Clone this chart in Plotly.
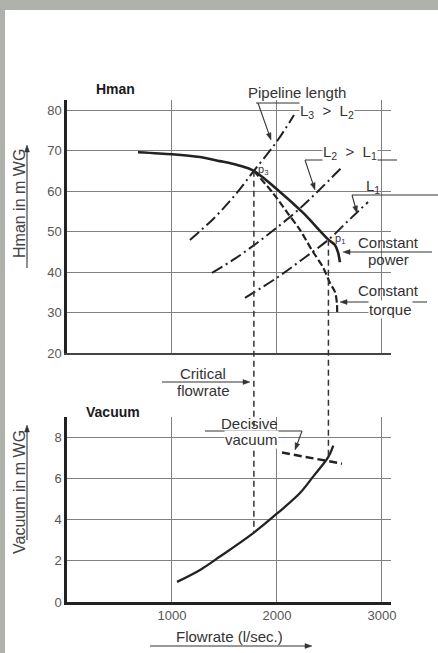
import math
import plotly.graph_objects as go

# ---------------- data ----------------
PUMP_Q = [676, 1000, 1267, 1457, 1629, 1780, 2029, 2250, 2490, 2552, 2581, 2600]
PUMP_H = [69.6, 69.1, 68.4, 67.4, 66.4, 65.0, 59.8, 54.6, 48.0, 46.7, 44.9, 42.4]

TORQUE_Q = [1780, 1962, 2095, 2219, 2333, 2438, 2505, 2552, 2571, 2573]
TORQUE_H = [65.0, 59.5, 54.8, 50.4, 45.4, 41.2, 37.3, 35.1, 32.3, 29.4]

L1_Q = [1695, 2000, 2250, 2490, 2700, 2867]
L1_H = [33.6, 38.6, 43.3, 48.0, 53.2, 57.3]
L2_Q = [1381, 1600, 1800, 2000, 2200, 2400, 2619]
L2_H = [39.8, 43.3, 47.0, 51.0, 55.3, 60.2, 65.9]
L3_Q = [1171, 1400, 1600, 1780, 2000, 2162]
L3_H = [47.9, 53.3, 59.0, 65.0, 72.3, 78.8]

VAC_Q = [1048, 1267, 1457, 1774, 2007, 2219, 2346, 2489, 2536]
VAC_V = [0.98, 1.56, 2.21, 3.35, 4.33, 5.30, 6.11, 7.06, 7.61]

DECISIVE_Q = [2048, 2619]
DECISIVE_V = [7.27, 6.73]

CRIT_Q, CRIT_H, CRIT_V = 1780, 65.0, 3.35   # p3 / critical flowrate
P1_Q, P1_H, P1_V = 2490, 48.0, 7.06         # p1

X_TICKS = [1000, 2000, 3000]
X_LABELS = ["1000", "2000", "3000"]
H_TICKS = [20, 30, 40, 50, 60, 70, 80]
V_TICKS = [0, 2, 4, 6, 8]

# ---------------- geometry ----------------
W, H = 438, 653
ML, MR, MT, MB = 67, 47, 100, 51
PW, PH = W - ML - MR, H - MT - MB


def px_x(px):
    return (px - ML) / PW


def px_y(py):
    return (H - MB - py) / PH


X_RANGE = [0, 3086]
H_RANGE = [20, 82.5]
V_RANGE = [0, 9.0]
TOP_DOM = [px_y(353), 1.0]
BOT_DOM = [0.0, px_y(417)]


def q_paper(q):
    return (q - X_RANGE[0]) / (X_RANGE[1] - X_RANGE[0])


def h_paper(h):
    return TOP_DOM[0] + (h - H_RANGE[0]) / (H_RANGE[1] - H_RANGE[0]) * (TOP_DOM[1] - TOP_DOM[0])


def v_paper(v):
    return BOT_DOM[0] + (v - V_RANGE[0]) / (V_RANGE[1] - V_RANGE[0]) * (BOT_DOM[1] - BOT_DOM[0])


FONT = "Liberation Sans, Arial, Helvetica, sans-serif"
INK = "#222222"
TXT = "#333333"
GRID = "#808080"
DASHDOT = "12px,4px,2px,4px"

fig = go.Figure()

# top plot traces
for q, h in [(L1_Q, L1_H), (L2_Q, L2_H), (L3_Q, L3_H)]:
    fig.add_trace(go.Scatter(x=q, y=h, mode="lines", xaxis="x", yaxis="y",
                             line=dict(color=INK, width=2, dash=DASHDOT, shape="spline")))
fig.add_trace(go.Scatter(x=TORQUE_Q, y=TORQUE_H, mode="lines", xaxis="x", yaxis="y",
                         line=dict(color=INK, width=2.2, dash="7px,3px", shape="spline", smoothing=0.8)))
fig.add_trace(go.Scatter(x=PUMP_Q, y=PUMP_H, mode="lines", xaxis="x", yaxis="y",
                         line=dict(color=INK, width=2.6, shape="spline", smoothing=0.8)))

# bottom plot traces
fig.add_trace(go.Scatter(x=VAC_Q, y=VAC_V, mode="lines", xaxis="x2", yaxis="y2",
                         line=dict(color=INK, width=2.3, shape="spline")))
fig.add_trace(go.Scatter(x=DECISIVE_Q, y=DECISIVE_V, mode="lines", xaxis="x2", yaxis="y2",
                         line=dict(color=INK, width=2.5, dash="8px,4px")))

shapes = []
# vertical dashed connectors (spanning both plots)
for q, h, v in [(CRIT_Q, CRIT_H, CRIT_V), (P1_Q, P1_H, P1_V)]:
    shapes.append(dict(type="line", xref="paper", yref="paper",
                       x0=q_paper(q), x1=q_paper(q), y0=h_paper(h), y1=v_paper(v),
                       line=dict(color=TXT, width=1.5, dash="6px,4px")))

# gray frame of the scan
FRAME = "#aeb2ab"
shapes.append(dict(type="rect", xref="paper", yref="paper", layer="above",
                   x0=px_x(0), x1=px_x(W), y0=px_y(10), y1=px_y(0),
                   line=dict(width=0), fillcolor=FRAME))
shapes.append(dict(type="rect", xref="paper", yref="paper", layer="above",
                   x0=px_x(0), x1=px_x(5), y0=px_y(H), y1=px_y(0),
                   line=dict(width=0), fillcolor=FRAME))

# leader lines
for (x0, y0, x1, y1) in [(256, 103, 343, 103), (305, 160, 397, 160),
                         (352, 195, 438, 195), (205, 431, 302, 431)]:
    shapes.append(dict(type="line", xref="paper", yref="paper",
                       x0=px_x(x0), x1=px_x(x1), y0=px_y(y0), y1=px_y(y1),
                       line=dict(color=TXT, width=1)))


def arrow(hx, hy, tx, ty, length=7.0, half=2.4):
    """line from tail to head, with a filled triangular head (pixel coords)."""
    dx, dy = hx - tx, hy - ty
    n = math.hypot(dx, dy)
    ux, uy = dx / n, dy / n
    bx, by = hx - ux * length, hy - uy * length
    shapes.append(dict(type="line", xref="paper", yref="paper",
                       x0=px_x(tx), y0=px_y(ty), x1=px_x(bx), y1=px_y(by),
                       line=dict(color=TXT, width=1.1)))
    p1 = (bx - uy * half, by + ux * half)
    p2 = (bx + uy * half, by - ux * half)
    path = "M {:.5f},{:.5f} L {:.5f},{:.5f} L {:.5f},{:.5f} Z".format(
        px_x(hx), px_y(hy), px_x(p1[0]), px_y(p1[1]), px_x(p2[0]), px_y(p2[1]))
    shapes.append(dict(type="path", xref="paper", yref="paper", path=path,
                       fillcolor=TXT, line=dict(color=TXT, width=0.5)))


for (hx, hy, tx, ty) in [(271, 140, 258, 103), (315, 190, 305, 160), (357, 213, 352, 195),
                         (343, 252, 432, 252), (340, 302, 427, 302), (250, 382, 162, 382),
                         (295, 450, 302, 431), (312, 646, 150, 646),
                         (27, 145, 27, 268), (27, 425, 27, 540)]:
    arrow(hx, hy, tx, ty)

annotations = []


def label(text, px, py, size=15, bg=None, bold=False, color=TXT, angle=0):
    d = dict(xref="paper", yref="paper", x=px_x(px), y=px_y(py), text=text,
             showarrow=False, xanchor="center", yanchor="middle", textangle=angle,
             font=dict(family=FONT, size=size, color=color), borderpad=0)
    if bold:
        d["text"] = "<b>" + text + "</b>"
    if bg:
        d["bgcolor"] = bg
    annotations.append(d)


label("Pipeline length", 297, 92)
label("L<sub>3</sub>  &gt;  L<sub>2</sub>", 327, 112, bg="white")
label("L<sub>2</sub>  &gt;  L<sub>1</sub>", 350, 152, bg="white")
label("L<sub>1</sub>", 373, 187)
label("Constant", 388, 243)
label("power", 388, 259)
label("Constant", 388, 290)
label("torque", 390, 309, bg="white")
label("Critical", 203, 373)
label("flowrate", 203, 391)
label("Decisive", 250, 423)
label("vacuum", 251, 439, bg="white")
label("Flowrate (l/sec.)", 229, 636)
label("Hman", 115, 89, size=14, bold=True, color="#1a1a1a")
label("Vacuum", 113, 412, size=14, bold=True, color="#1a1a1a")
label("Hman in m WG", 19, 204, size=16, color="#444444", angle=-90)
label("Vacuum in m WG", 19, 492, size=16, color="#444444", angle=-90)

# point labels p3, p1
annotations.append(dict(xref="x", yref="y", x=CRIT_Q, y=CRIT_H, text="p<sub>3</sub>",
                        showarrow=False, xshift=9, yshift=1,
                        font=dict(family=FONT, size=11, color=TXT)))
annotations.append(dict(xref="x", yref="y", x=P1_Q, y=P1_H, text="p<sub>1</sub>",
                        showarrow=False, xshift=12, yshift=1,
                        font=dict(family=FONT, size=11, color=TXT)))

axis_common = dict(showgrid=True, gridcolor=GRID, gridwidth=1, zeroline=False,
                   ticks="", tickfont=dict(family=FONT, size=13, color="#555555"))

fig.update_layout(
    width=W, height=H, autosize=False,
    margin=dict(l=ML, r=MR, t=MT, b=MB, pad=0),
    paper_bgcolor="white", plot_bgcolor="white",
    showlegend=False, hovermode=False,
    xaxis=dict(domain=[0, 1], range=X_RANGE, anchor="y", tickvals=X_TICKS,
               showticklabels=False, showline=True, linecolor="#444444", linewidth=1.5,
               **axis_common),
    yaxis=dict(domain=TOP_DOM, range=H_RANGE, anchor="x", tickvals=H_TICKS,
               showline=True, linecolor=INK, linewidth=2.5, **axis_common),
    xaxis2=dict(domain=[0, 1], range=X_RANGE, anchor="y2", tickvals=X_TICKS,
                ticktext=X_LABELS, showline=True, linecolor=INK, linewidth=2.5,
                **axis_common),
    yaxis2=dict(domain=BOT_DOM, range=V_RANGE, anchor="x2", tickvals=V_TICKS,
                showline=True, linecolor=INK, linewidth=2.5, **axis_common),
    shapes=shapes,
    annotations=annotations,
)

fig.write_html("out.html", config={"displayModeBar": False},
               post_script="document.body.style.margin='0';"
                           "document.body.style.overflow='hidden';")
